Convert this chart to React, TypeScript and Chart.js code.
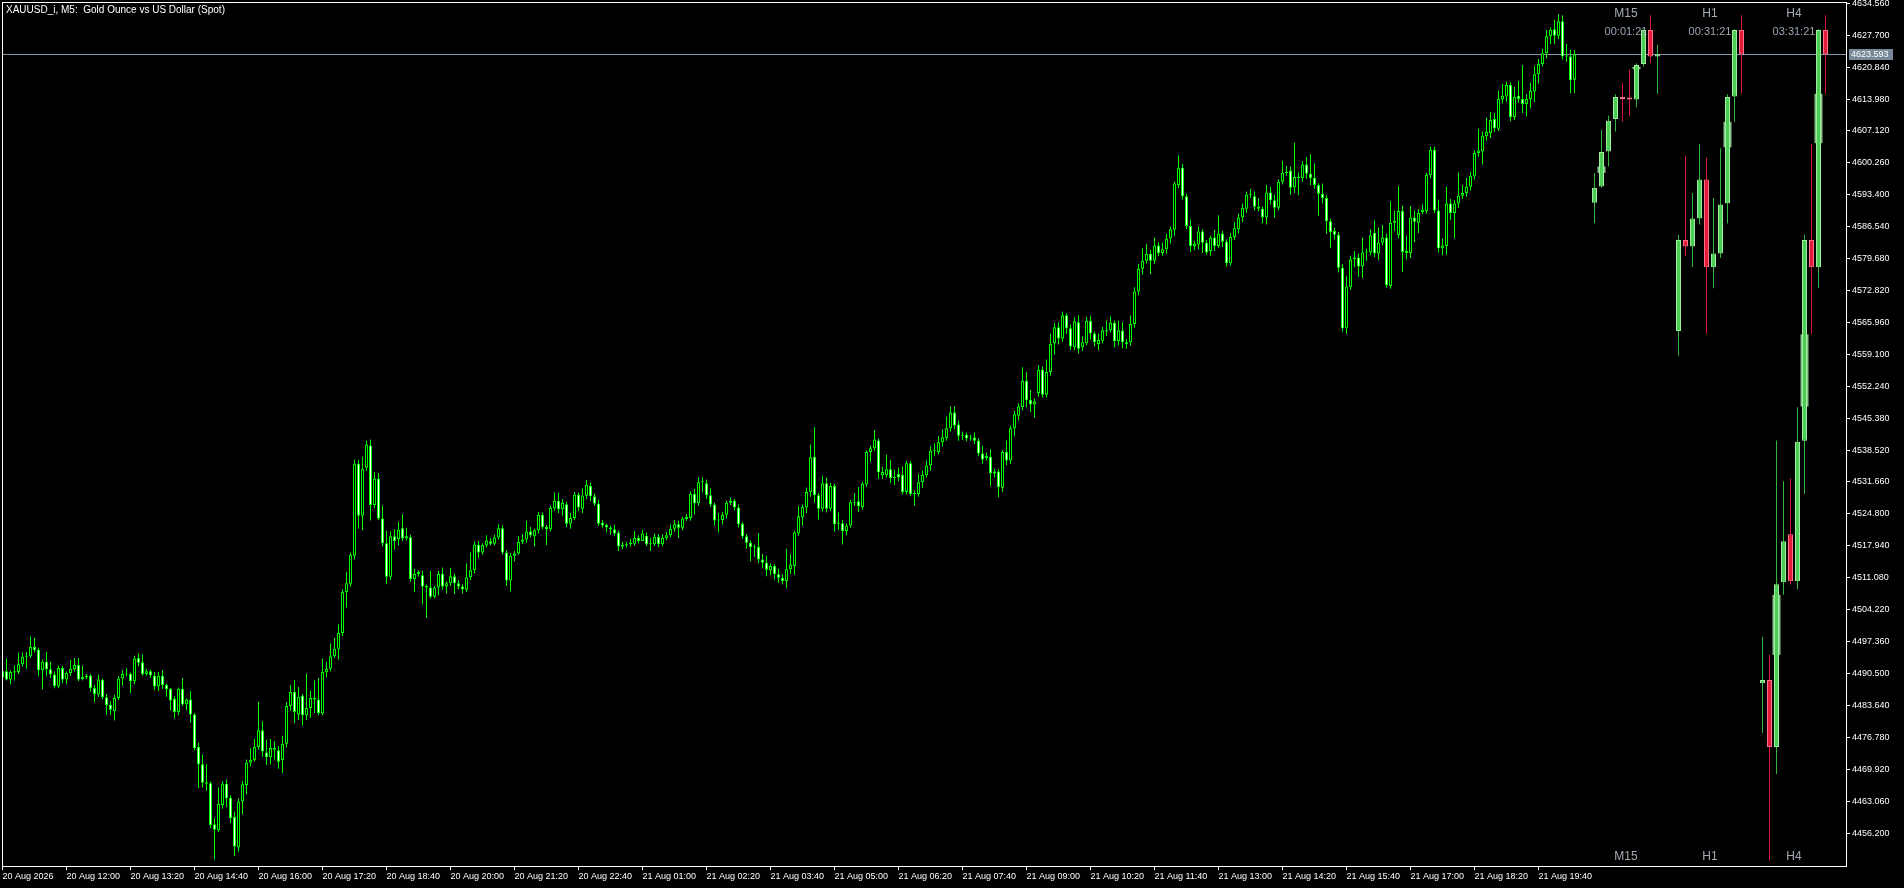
import React, { useEffect, useRef } from "react";
import { Chart, registerables } from "chart.js";

Chart.register(...registerables);

const TITLE = "XAUUSD_i, M5:  Gold Ounce vs US Dollar (Spot)";

const M5_OPEN = [
  4489.7, 4491.0, 4489.2, 4490.7, 4490.8, 4492.5, 4494.1, 4494.2, 4496.2, 4495.6,
  4491.2, 4493.0, 4491.4, 4490.3, 4487.7, 4491.7, 4489.2, 4490.6, 4491.4, 4492.3,
  4489.3, 4489.7, 4490.0, 4487.4, 4486.0, 4489.1, 4485.4, 4483.8, 4482.4, 4485.2,
  4489.4, 4490.4, 4490.4, 4488.8, 4493.8, 4492.9, 4490.4, 4491.0, 4490.0, 4487.7,
  4490.0, 4488.0, 4487.2, 4485.1, 4482.2, 4487.2, 4483.9, 4484.9, 4481.7, 4474.7,
  4471.0, 4467.1, 4466.9, 4458.1, 4456.8, 4462.2, 4466.8, 4463.8, 4459.7, 4453.1,
  4463.0, 4466.5, 4471.3, 4471.9, 4474.7, 4478.3, 4473.5, 4472.5, 4474.5, 4474.0,
  4471.9, 4475.4, 4483.5, 4486.5, 4481.7, 4485.7, 4481.5, 4483.1, 4485.2, 4484.9,
  4481.9, 4490.8, 4491.5, 4494.2, 4495.8, 4499.2, 4508.0, 4509.8, 4515.8, 4535.6,
  4524.4, 4534.7, 4539.5, 4526.7, 4532.4, 4523.8, 4518.5, 4511.3, 4520.0, 4519.4,
  4521.7, 4519.5, 4519.8, 4510.8, 4511.9, 4511.6, 4509.3, 4509.0, 4507.0, 4509.0,
  4511.9, 4509.2, 4509.9, 4511.4, 4509.9, 4509.2, 4508.5, 4511.2, 4512.7, 4518.1,
  4516.5, 4518.0, 4518.9, 4518.4, 4519.7, 4521.7, 4516.5, 4510.5, 4515.8, 4516.3,
  4518.8, 4519.3, 4521.0, 4520.0, 4521.3, 4524.6, 4522.0, 4521.5, 4526.0, 4527.6,
  4525.8, 4526.9, 4522.7, 4523.9, 4528.9, 4525.9, 4528.7, 4530.8, 4528.6, 4527.0,
  4522.9, 4522.4, 4521.9, 4521.5, 4520.8, 4517.8, 4518.0, 4518.3, 4518.4, 4519.6,
  4519.0, 4520.1, 4518.3, 4518.3, 4519.9, 4518.3, 4519.6, 4520.2, 4521.6, 4522.6,
  4521.8, 4523.7, 4523.9, 4529.1, 4527.1, 4531.6, 4531.4, 4528.8, 4526.8, 4523.4,
  4523.5, 4524.6, 4527.2, 4527.6, 4526.2, 4522.7, 4520.0, 4518.6, 4517.8, 4517.7,
  4515.0, 4514.3, 4512.7, 4513.6, 4511.8, 4511.1, 4510.4, 4512.9, 4513.6, 4520.6,
  4524.1, 4526.2, 4529.5, 4537.1, 4528.8, 4525.9, 4531.4, 4525.9, 4530.8, 4522.6,
  4522.8, 4521.1, 4522.3, 4527.3, 4527.5, 4526.3, 4531.1, 4538.1, 4538.9, 4540.6,
  4533.1, 4533.1, 4534.4, 4532.5, 4533.4, 4533.2, 4529.5, 4535.7, 4529.1, 4529.1,
  4531.6, 4533.1, 4535.2, 4538.4, 4538.1, 4540.2, 4541.1, 4543.2, 4546.6, 4544.0,
  4541.8, 4541.8, 4541.2, 4541.2, 4540.6, 4537.8, 4536.8, 4537.1, 4533.5, 4533.9,
  4530.4, 4538.1, 4536.3, 4543.2, 4545.9, 4547.8, 4553.4, 4549.3, 4548.3, 4550.8,
  4555.8, 4550.4, 4555.3, 4561.5, 4564.9, 4562.5, 4567.5, 4564.7, 4560.6, 4566.0,
  4560.6, 4561.5, 4566.3, 4563.6, 4561.3, 4562.0, 4564.3, 4564.3, 4565.9, 4561.9,
  4564.2, 4561.7, 4561.7, 4565.6, 4572.6, 4577.5, 4579.2, 4580.7, 4579.2, 4582.5,
  4580.9, 4581.7, 4584.0, 4585.9, 4595.5, 4599.2, 4593.1, 4586.7, 4582.4, 4582.7,
  4585.5, 4583.1, 4581.3, 4584.2, 4582.4, 4585.1, 4583.3, 4578.7, 4584.3, 4586.0,
  4588.5, 4590.4, 4593.4, 4593.1, 4590.8, 4590.4, 4588.5, 4593.9, 4592.2, 4590.6,
  4596.2, 4598.1, 4598.6, 4595.0, 4597.2, 4597.0, 4599.9, 4597.9, 4597.0, 4595.5,
  4593.6, 4592.7, 4587.7, 4585.6, 4584.8, 4577.7, 4564.7, 4573.5, 4579.6, 4579.9,
  4578.0, 4581.0, 4581.0, 4585.2, 4580.8, 4583.1, 4584.2, 4573.8, 4587.4, 4584.7,
  4589.9, 4581.3, 4580.9, 4588.5, 4587.4, 4589.7, 4589.9, 4597.6, 4603.1, 4590.0,
  4581.9, 4582.4, 4591.5, 4589.5, 4591.5, 4593.2, 4593.8, 4595.1, 4597.4, 4602.4,
  4602.7, 4606.0, 4606.7, 4609.7, 4607.6, 4613.9, 4614.5, 4617.0, 4610.1, 4614.7,
  4614.0, 4612.9, 4614.0, 4615.6, 4619.3, 4621.5, 4623.8, 4627.5, 4629.0, 4627.6,
  4630.7, 4623.1, 4623.1, 4618.1,
];

const M5_HIGH = [
  4491.6, 4493.7, 4491.2, 4492.2, 4494.9, 4495.0, 4495.1, 4498.5, 4498.2, 4496.0,
  4493.5, 4495.1, 4493.0, 4491.0, 4492.2, 4492.1, 4491.0, 4493.4, 4493.8, 4493.8,
  4492.2, 4490.4, 4490.4, 4488.0, 4490.2, 4489.4, 4486.1, 4484.5, 4485.9, 4489.9,
  4491.2, 4491.6, 4490.7, 4494.3, 4494.8, 4494.6, 4491.5, 4491.3, 4490.8, 4490.8,
  4491.2, 4488.3, 4487.4, 4485.6, 4487.5, 4489.5, 4485.1, 4486.7, 4482.0, 4475.6,
  4473.0, 4471.0, 4467.3, 4459.4, 4466.0, 4467.4, 4467.7, 4464.3, 4460.8, 4463.6,
  4467.4, 4472.0, 4474.4, 4476.4, 4484.4, 4480.2, 4476.2, 4476.4, 4476.0, 4474.9,
  4477.1, 4484.3, 4488.0, 4489.1, 4487.6, 4486.1, 4490.5, 4486.8, 4489.0, 4489.5,
  4493.7, 4493.0, 4497.0, 4498.2, 4501.0, 4508.6, 4512.3, 4516.5, 4536.5, 4536.4,
  4537.1, 4540.5, 4540.8, 4533.8, 4533.6, 4526.6, 4521.2, 4521.0, 4521.5, 4523.1,
  4524.7, 4521.8, 4520.3, 4513.0, 4512.7, 4512.5, 4509.6, 4512.5, 4509.3, 4512.6,
  4513.3, 4510.3, 4513.2, 4512.0, 4510.6, 4509.7, 4514.2, 4516.5, 4518.8, 4519.0,
  4518.5, 4520.2, 4519.6, 4520.3, 4522.6, 4522.3, 4517.0, 4516.4, 4516.8, 4520.0,
  4520.5, 4523.3, 4522.0, 4521.6, 4525.2, 4525.1, 4522.4, 4526.5, 4529.4, 4529.3,
  4528.0, 4527.4, 4525.0, 4529.5, 4529.4, 4530.3, 4532.1, 4531.5, 4529.2, 4527.8,
  4523.5, 4522.7, 4522.2, 4522.4, 4521.2, 4518.8, 4518.8, 4519.4, 4521.1, 4520.2,
  4521.4, 4520.8, 4519.6, 4520.6, 4520.5, 4520.4, 4520.9, 4522.5, 4523.5, 4523.3,
  4524.2, 4524.8, 4529.6, 4530.2, 4532.7, 4532.6, 4532.2, 4530.3, 4527.2, 4525.0,
  4525.2, 4527.6, 4528.3, 4528.0, 4526.8, 4523.0, 4520.5, 4519.1, 4518.2, 4520.7,
  4516.2, 4515.8, 4514.2, 4514.0, 4513.0, 4511.8, 4517.3, 4516.1, 4521.2, 4526.5,
  4526.9, 4530.5, 4539.7, 4543.4, 4529.3, 4533.0, 4532.6, 4531.5, 4531.3, 4525.1,
  4523.5, 4522.8, 4527.8, 4529.3, 4530.6, 4531.7, 4538.5, 4539.5, 4542.8, 4541.0,
  4535.0, 4537.5, 4536.4, 4534.3, 4534.7, 4535.0, 4536.2, 4536.1, 4529.9, 4533.4,
  4534.2, 4536.3, 4539.3, 4540.0, 4541.5, 4543.0, 4545.7, 4547.9, 4547.9, 4544.9,
  4542.5, 4542.3, 4541.8, 4542.3, 4541.0, 4539.5, 4538.0, 4538.7, 4534.5, 4534.4,
  4538.5, 4540.6, 4543.8, 4546.9, 4548.6, 4556.3, 4555.3, 4551.5, 4549.6, 4556.8,
  4556.5, 4558.0, 4563.6, 4565.8, 4566.0, 4568.3, 4568.0, 4565.5, 4567.0, 4567.5,
  4563.0, 4567.2, 4567.4, 4564.0, 4563.6, 4565.0, 4566.4, 4567.3, 4566.4, 4566.3,
  4566.0, 4562.4, 4567.5, 4573.5, 4578.5, 4581.9, 4582.8, 4581.6, 4584.2, 4583.2,
  4583.1, 4585.0, 4586.6, 4596.2, 4601.9, 4600.0, 4593.6, 4588.1, 4583.5, 4586.6,
  4586.0, 4583.7, 4584.6, 4585.9, 4589.0, 4585.6, 4583.8, 4585.2, 4587.6, 4589.4,
  4591.5, 4594.1, 4594.7, 4594.1, 4592.6, 4590.9, 4595.5, 4595.1, 4593.4, 4596.7,
  4600.7, 4599.6, 4599.5, 4604.6, 4598.2, 4600.6, 4601.5, 4602.1, 4600.2, 4595.9,
  4595.8, 4593.3, 4588.2, 4586.3, 4585.4, 4578.5, 4575.9, 4580.3, 4581.3, 4580.7,
  4584.2, 4581.8, 4586.0, 4587.9, 4586.4, 4586.9, 4585.0, 4592.0, 4590.0, 4595.3,
  4591.1, 4584.6, 4591.0, 4590.0, 4590.3, 4591.3, 4598.1, 4603.8, 4603.7, 4592.4,
  4584.0, 4595.1, 4592.5, 4592.2, 4598.2, 4595.5, 4597.0, 4598.3, 4603.0, 4607.6,
  4607.0, 4610.0, 4611.2, 4611.0, 4615.8, 4617.2, 4617.7, 4617.6, 4616.6, 4617.9,
  4621.3, 4615.0, 4617.5, 4621.1, 4622.6, 4624.8, 4628.8, 4629.4, 4631.0, 4632.2,
  4632.0, 4625.8, 4624.6, 4624.5,
];

const M5_LOW = [
  4489.0, 4489.0, 4488.2, 4489.0, 4490.4, 4492.0, 4491.5, 4493.8, 4495.0, 4489.9,
  4487.1, 4489.9, 4489.5, 4487.3, 4487.3, 4488.4, 4488.2, 4490.0, 4490.9, 4488.9,
  4489.0, 4489.3, 4486.6, 4484.3, 4485.5, 4484.9, 4481.6, 4481.6, 4480.4, 4484.8,
  4487.9, 4489.9, 4486.3, 4488.2, 4492.0, 4490.0, 4490.0, 4489.6, 4487.0, 4486.8,
  4487.2, 4485.5, 4482.6, 4480.8, 4481.5, 4483.5, 4482.6, 4479.9, 4474.0, 4465.9,
  4466.0, 4465.3, 4457.3, 4450.5, 4456.4, 4461.4, 4461.8, 4458.3, 4451.2, 4452.2,
  4460.2, 4464.5, 4470.5, 4471.6, 4474.1, 4472.6, 4470.8, 4471.0, 4472.0, 4470.0,
  4469.1, 4474.6, 4482.5, 4479.8, 4480.5, 4479.3, 4480.5, 4481.0, 4482.0, 4481.5,
  4481.5, 4489.7, 4491.0, 4493.8, 4493.5, 4498.5, 4504.7, 4509.2, 4515.0, 4521.6,
  4521.3, 4534.0, 4523.4, 4526.0, 4523.5, 4517.8, 4509.7, 4510.6, 4517.1, 4518.0,
  4519.0, 4519.1, 4510.2, 4508.0, 4511.3, 4505.3, 4502.5, 4506.6, 4506.7, 4507.3,
  4508.5, 4507.7, 4509.3, 4507.6, 4508.6, 4507.7, 4508.0, 4510.6, 4512.0, 4515.3,
  4516.0, 4517.6, 4518.0, 4518.0, 4519.3, 4516.0, 4509.3, 4508.1, 4514.6, 4516.0,
  4518.3, 4518.6, 4519.8, 4517.8, 4520.6, 4521.5, 4518.1, 4521.0, 4525.5, 4525.0,
  4524.4, 4522.0, 4521.6, 4523.5, 4525.4, 4525.0, 4528.0, 4527.5, 4526.5, 4522.2,
  4521.8, 4520.8, 4520.3, 4520.0, 4516.8, 4517.2, 4517.6, 4517.8, 4518.0, 4518.5,
  4519.0, 4517.9, 4516.8, 4517.9, 4517.7, 4517.9, 4519.2, 4519.8, 4521.0, 4519.6,
  4521.3, 4523.3, 4523.3, 4524.7, 4526.6, 4529.4, 4528.0, 4526.3, 4522.3, 4520.8,
  4522.5, 4523.8, 4526.7, 4525.6, 4521.9, 4519.4, 4517.3, 4514.6, 4515.6, 4514.2,
  4513.2, 4511.4, 4511.6, 4510.7, 4510.0, 4509.6, 4508.8, 4511.9, 4511.7, 4520.1,
  4522.3, 4525.0, 4528.5, 4527.3, 4523.6, 4525.3, 4525.1, 4525.4, 4521.0, 4521.4,
  4518.2, 4520.2, 4521.8, 4526.5, 4525.2, 4525.7, 4530.6, 4536.0, 4538.3, 4532.3,
  4532.3, 4532.6, 4531.5, 4531.0, 4531.8, 4529.0, 4529.0, 4528.6, 4526.6, 4528.5,
  4530.4, 4532.6, 4534.1, 4537.2, 4537.6, 4539.3, 4540.5, 4542.5, 4543.0, 4540.5,
  4540.7, 4540.4, 4540.5, 4539.8, 4537.2, 4535.6, 4536.3, 4530.8, 4532.6, 4528.4,
  4529.5, 4535.3, 4535.5, 4541.5, 4544.9, 4547.0, 4547.7, 4546.7, 4545.5, 4550.0,
  4549.8, 4549.8, 4554.5, 4559.0, 4561.2, 4561.8, 4563.5, 4560.0, 4560.0, 4559.3,
  4559.8, 4561.0, 4562.3, 4560.8, 4560.0, 4561.5, 4563.0, 4563.8, 4560.6, 4561.0,
  4560.4, 4560.3, 4561.0, 4564.8, 4571.8, 4576.2, 4578.6, 4576.3, 4578.5, 4580.2,
  4580.3, 4580.7, 4582.9, 4584.6, 4594.8, 4592.4, 4586.0, 4581.1, 4581.5, 4581.7,
  4580.9, 4580.5, 4580.3, 4581.3, 4581.9, 4582.2, 4578.0, 4578.2, 4583.7, 4585.1,
  4587.5, 4589.5, 4592.7, 4590.0, 4589.9, 4587.2, 4587.0, 4591.3, 4588.5, 4590.0,
  4595.6, 4597.5, 4593.4, 4593.8, 4593.3, 4596.2, 4596.8, 4595.5, 4594.7, 4588.9,
  4591.5, 4585.0, 4582.0, 4583.8, 4576.7, 4564.0, 4563.5, 4573.0, 4577.8, 4575.8,
  4575.5, 4579.2, 4580.4, 4580.0, 4579.3, 4582.5, 4573.4, 4573.2, 4585.6, 4584.0,
  4576.8, 4579.5, 4579.8, 4583.2, 4585.2, 4589.2, 4589.4, 4596.9, 4589.5, 4581.0,
  4580.4, 4580.5, 4588.0, 4584.0, 4590.6, 4592.5, 4593.0, 4594.3, 4596.7, 4601.6,
  4599.9, 4605.0, 4605.6, 4606.9, 4607.1, 4613.0, 4613.4, 4609.2, 4609.5, 4613.2,
  4611.0, 4610.3, 4612.0, 4613.3, 4617.3, 4621.0, 4622.7, 4625.8, 4625.8, 4626.9,
  4622.5, 4622.0, 4615.2, 4615.3,
];

const M5_CLOSE = [
  4491.0, 4489.2, 4490.8, 4491.0, 4492.5, 4494.1, 4494.3, 4496.2, 4495.5, 4491.2,
  4493.0, 4491.4, 4490.3, 4487.8, 4491.7, 4489.2, 4490.6, 4491.5, 4492.3, 4489.2,
  4489.8, 4490.0, 4487.4, 4486.1, 4489.2, 4485.4, 4483.7, 4482.7, 4485.2, 4489.4,
  4490.4, 4490.3, 4488.8, 4493.7, 4492.8, 4490.4, 4491.0, 4490.1, 4487.7, 4490.0,
  4488.0, 4487.1, 4484.7, 4482.2, 4487.2, 4483.9, 4484.9, 4481.7, 4474.4, 4471.0,
  4467.0, 4466.8, 4457.9, 4456.9, 4462.5, 4466.8, 4463.7, 4459.4, 4453.3, 4463.0,
  4466.7, 4471.3, 4471.9, 4474.7, 4478.3, 4473.7, 4472.5, 4474.5, 4474.1, 4471.5,
  4475.4, 4483.5, 4486.5, 4482.2, 4485.5, 4481.5, 4483.1, 4485.2, 4484.9, 4482.0,
  4490.8, 4491.5, 4494.2, 4495.8, 4499.2, 4508.0, 4509.9, 4516.0, 4535.6, 4524.4,
  4534.5, 4539.7, 4526.7, 4532.4, 4523.8, 4518.5, 4511.3, 4520.0, 4519.0, 4521.4,
  4519.5, 4520.0, 4510.8, 4511.9, 4512.3, 4509.2, 4509.0, 4507.0, 4509.0, 4511.9,
  4509.2, 4509.9, 4511.4, 4509.9, 4509.2, 4508.6, 4511.2, 4512.7, 4518.2, 4516.5,
  4518.1, 4519.1, 4518.4, 4519.7, 4521.7, 4516.5, 4510.5, 4515.8, 4516.3, 4518.8,
  4519.3, 4521.0, 4520.2, 4521.3, 4524.6, 4522.0, 4521.5, 4526.1, 4527.6, 4525.8,
  4527.2, 4522.7, 4523.9, 4528.9, 4526.2, 4528.7, 4531.0, 4528.6, 4527.0, 4522.7,
  4522.3, 4521.9, 4521.5, 4520.6, 4517.8, 4518.1, 4518.3, 4518.6, 4519.6, 4519.0,
  4520.6, 4518.3, 4518.3, 4519.9, 4518.3, 4519.6, 4520.2, 4521.6, 4522.6, 4521.8,
  4523.8, 4524.2, 4529.1, 4527.1, 4531.6, 4531.8, 4528.8, 4526.8, 4523.4, 4523.6,
  4524.6, 4527.2, 4527.6, 4526.2, 4522.6, 4520.0, 4518.6, 4517.7, 4517.6, 4515.0,
  4514.3, 4512.8, 4513.6, 4511.8, 4511.1, 4510.4, 4512.9, 4513.9, 4520.8, 4524.3,
  4526.3, 4529.5, 4537.0, 4528.8, 4525.9, 4531.4, 4525.9, 4530.8, 4522.6, 4522.8,
  4521.1, 4522.3, 4527.3, 4527.1, 4526.5, 4531.3, 4538.1, 4538.9, 4540.8, 4533.8,
  4533.8, 4534.4, 4532.5, 4532.8, 4532.6, 4529.5, 4535.7, 4529.1, 4529.3, 4531.6,
  4533.2, 4535.2, 4538.4, 4538.6, 4540.2, 4541.3, 4543.2, 4546.6, 4543.8, 4541.6,
  4541.6, 4541.0, 4541.0, 4540.5, 4537.8, 4536.5, 4537.3, 4533.5, 4533.9, 4530.6,
  4538.1, 4536.3, 4543.2, 4546.2, 4547.9, 4553.4, 4549.3, 4548.3, 4549.0, 4555.8,
  4550.4, 4555.3, 4561.3, 4564.9, 4562.5, 4567.5, 4564.7, 4560.8, 4566.2, 4560.3,
  4561.7, 4566.3, 4563.6, 4561.7, 4562.2, 4564.3, 4564.0, 4565.9, 4561.9, 4564.3,
  4561.7, 4561.3, 4565.6, 4572.6, 4577.5, 4579.2, 4580.7, 4579.2, 4582.5, 4580.9,
  4581.7, 4584.0, 4586.0, 4595.8, 4599.2, 4593.1, 4586.7, 4582.4, 4582.9, 4585.5,
  4583.1, 4581.0, 4584.2, 4582.4, 4585.1, 4583.3, 4578.7, 4584.3, 4586.2, 4588.5,
  4590.6, 4593.4, 4593.7, 4590.8, 4590.4, 4588.5, 4593.9, 4592.2, 4590.6, 4596.2,
  4598.1, 4598.3, 4594.9, 4597.2, 4597.0, 4599.9, 4597.9, 4597.0, 4595.5, 4593.6,
  4592.7, 4587.7, 4585.4, 4584.8, 4577.7, 4564.7, 4573.7, 4579.5, 4579.9, 4578.0,
  4581.0, 4581.2, 4584.7, 4580.8, 4583.1, 4584.2, 4574.0, 4587.4, 4587.8, 4589.9,
  4581.1, 4580.9, 4588.5, 4587.6, 4589.5, 4590.2, 4597.7, 4603.1, 4590.0, 4581.9,
  4582.5, 4591.5, 4589.5, 4591.5, 4593.2, 4593.8, 4595.1, 4597.5, 4602.4, 4602.9,
  4606.1, 4606.9, 4609.5, 4607.7, 4614.0, 4614.7, 4617.0, 4610.1, 4614.4, 4614.0,
  4612.9, 4614.0, 4615.7, 4619.3, 4621.5, 4623.8, 4627.5, 4628.9, 4627.6, 4630.7,
  4623.1, 4623.2, 4618.0, 4623.593,
];

const TIME_LABELS = [
  "20 Aug 2026", "20 Aug 12:00", "20 Aug 13:20", "20 Aug 14:40", "20 Aug 16:00",
  "20 Aug 17:20", "20 Aug 18:40", "20 Aug 20:00", "20 Aug 21:20", "20 Aug 22:40",
  "21 Aug 01:00", "21 Aug 02:20", "21 Aug 03:40", "21 Aug 05:00", "21 Aug 06:20",
  "21 Aug 07:40", "21 Aug 09:00", "21 Aug 10:20", "21 Aug 11:40", "21 Aug 13:00",
  "21 Aug 14:20", "21 Aug 15:40", "21 Aug 17:00", "21 Aug 18:20", "21 Aug 19:40",
];

const PRICE_TICKS = [
  4634.56, 4627.7, 4620.84, 4613.98, 4607.12, 4600.26, 4593.4, 4586.54, 4579.68,
  4572.82, 4565.96, 4559.1, 4552.24, 4545.38, 4538.52, 4531.66, 4524.8, 4517.94,
  4511.08, 4504.22, 4497.36, 4490.5, 4483.64, 4476.78, 4469.92, 4463.06, 4456.2,
];

const CURRENT_PRICE = 4623.593;

const PANEL_NAMES = ["M15", "H1", "H4"];
const PANEL_TIMERS = ["00:01:21", "00:31:21", "03:31:21"];

const M15_OPEN = [4591.7, 4595.2, 4602.7, 4609.7, 4614.4, 4614.3, 4613.9, 4621.5, 4628.8, 4623.1];
const M15_HIGH = [4598.1, 4607.4, 4610.4, 4615.0, 4617.4, 4620.2, 4621.7, 4628.9, 4632.0, 4625.6];
const M15_LOW = [4587.3, 4594.9, 4599.5, 4607.0, 4609.1, 4610.4, 4612.2, 4621.0, 4621.7, 4615.1];
const M15_CLOSE = [4594.9, 4602.6, 4609.3, 4614.4, 4614.0, 4613.9, 4621.3, 4628.8, 4623.1, 4623.6];

const H1_OPEN = [4564.1, 4583.7, 4582.3, 4588.3, 4596.7, 4577.8, 4580.8, 4591.6, 4614.5, 4628.8];
const H1_HIGH = [4584.8, 4601.8, 4593.8, 4604.3, 4601.3, 4592.7, 4603.4, 4615.0, 4629.0, 4632.0];
const H1_LOW = [4558.8, 4580.2, 4577.9, 4587.0, 4563.5, 4573.3, 4579.8, 4587.2, 4609.1, 4615.1];
const H1_CLOSE = [4583.7, 4582.3, 4588.3, 4596.7, 4577.8, 4580.8, 4591.3, 4614.4, 4628.8, 4623.6];

const H4_OPEN = [4488.4, 4489.1, 4474.7, 4510.1, 4520.4, 4510.3, 4540.5, 4583.7, 4577.8, 4628.8];
const H4_HIGH = [4498.4, 4494.5, 4540.6, 4531.8, 4532.4, 4547.7, 4584.8, 4604.3, 4629.0, 4632.0];
const H4_LOW = [4477.7, 4450.3, 4468.9, 4507.4, 4509.6, 4508.6, 4529.1, 4563.5, 4573.3, 4615.1];
const H4_CLOSE = [4489.1, 4474.7, 4509.7, 4518.9, 4510.3, 4540.3, 4583.7, 4577.8, 4628.8, 4623.6];

// pale range marks shown behind some panel candles
const MARK_PANEL = [0, 0, 1, 2, 2, 2];
const MARK_CANDLE = [1, 6, 7, 8, 6, 2];
const MARK_LOW = [4598.1, 4620.4, 4603.6, 4604.5, 4547.9, 4494.5];
const MARK_HIGH = [4599.5, 4620.9, 4609.1, 4615.1, 4563.4, 4507.4];

// layout (bar-slot units of the x scale, 4 px per M5 bar)
const X_MIN = -0.125;
const X_MAX = 460.875;
const Y_MIN = 4449.11;
const Y_MAX = 4634.84;
const PANEL_START = [398, 419, 440];
const PANEL_STEP = 1.75;
const TIME_TICK_EVERY = 16;

const FONT = "'Liberation Sans', Arial, sans-serif";

const overlay = {
  id: "mtOverlay",
  beforeDatasetsDraw(chart: any) {
    const { ctx, chartArea: a, scales } = chart;
    const y = Math.round(scales.y.getPixelForValue(CURRENT_PRICE)) + 0.5;
    ctx.save();
    ctx.strokeStyle = "#8595a6";
    ctx.lineWidth = 1;
    ctx.beginPath();
    ctx.moveTo(a.left, y);
    ctx.lineTo(a.right, y);
    ctx.stroke();
    ctx.restore();
  },
  afterDraw(chart: any) {
    const { ctx, chartArea: a, scales } = chart;
    ctx.save();
    // frame
    ctx.strokeStyle = "#ffffff";
    ctx.lineWidth = 1;
    ctx.strokeRect(a.left + 0.5, a.top + 0.5, a.right - a.left, a.bottom - a.top);
    // title
    ctx.fillStyle = "#ffffff";
    ctx.font = "10px " + FONT;
    ctx.textAlign = "left";
    ctx.textBaseline = "middle";
    ctx.fillText(TITLE, a.left + 4, a.top + 8);
    // panel captions
    ctx.textAlign = "center";
    PANEL_NAMES.forEach((name, pi) => {
      const cx = scales.x.getPixelForValue(PANEL_START[pi] + PANEL_STEP * 4.5);
      ctx.fillStyle = "#a3abb5";
      ctx.font = "12px " + FONT;
      ctx.fillText(name, cx, a.top + 11.5);
      ctx.fillText(name, cx, a.bottom - 9);
      ctx.fillStyle = "#9aa5b3";
      ctx.font = "11px " + FONT;
      ctx.fillText(PANEL_TIMERS[pi], cx, a.top + 29.5);
    });
    // current price tag
    const yp = Math.round(scales.y.getPixelForValue(CURRENT_PRICE));
    ctx.fillStyle = "#778899";
    ctx.fillRect(a.right + 3, yp - 5, 44, 11);
    ctx.fillStyle = "#ffffff";
    ctx.font = "9px " + FONT;
    ctx.textAlign = "left";
    ctx.fillText(CURRENT_PRICE.toFixed(3), a.right + 5, yp + 0.5);
    ctx.restore();
  },
};

export default function App() {
  const ref = useRef<HTMLCanvasElement | null>(null);

  useEffect(() => {
    const canvas = ref.current;
    if (!canvas) return;
    Chart.defaults.font.family = FONT;

    const m5Wicks = M5_HIGH.map((h, i) => ({ x: i, y: [M5_LOW[i], h] }));
    const m5Bodies = M5_OPEN.map((o, i) => ({ x: i, y: [o, M5_CLOSE[i]] }));
    const m5Fill = M5_OPEN.map((o, i) => (M5_CLOSE[i] >= o ? "#000000" : "#ffffff"));

    const panels = [
      { o: M15_OPEN, h: M15_HIGH, l: M15_LOW, c: M15_CLOSE },
      { o: H1_OPEN, h: H1_HIGH, l: H1_LOW, c: H1_CLOSE },
      { o: H4_OPEN, h: H4_HIGH, l: H4_LOW, c: H4_CLOSE },
    ];
    const mtfWicks: any[] = [];
    const mtfBodies: any[] = [];
    const mtfWickColor: string[] = [];
    const mtfFill: string[] = [];
    const mtfBorder: string[] = [];
    panels.forEach((p, pi) => {
      p.o.forEach((o, k) => {
        const x = PANEL_START[pi] + PANEL_STEP * k;
        const up = p.c[k] >= o;
        mtfWicks.push({ x, y: [p.l[k], p.h[k]] });
        mtfBodies.push({ x, y: [o, p.c[k]] });
        mtfWickColor.push(up ? "#2fb83a" : "#dc143c");
        mtfFill.push(up ? "#4ccb55" : "#e01e3c");
        mtfBorder.push(up ? "#9ef09e" : "#ff7088");
      });
    });
    const marks = MARK_PANEL.map((pi, j) => ({
      x: PANEL_START[pi] + PANEL_STEP * MARK_CANDLE[j],
      y: [MARK_LOW[j], MARK_HIGH[j]],
    }));

    const common = { grouped: false, borderSkipped: false, inflateAmount: 0 };

    const chart = new Chart(canvas, {
      type: "bar",
      data: {
        datasets: [
          { ...common, label: "marks", data: marks, backgroundColor: "rgba(160,228,160,0.85)", barThickness: 8, order: 6 },
          { ...common, label: "mtfWicks", data: mtfWicks, backgroundColor: mtfWickColor, barThickness: 1, order: 5 },
          {
            ...common, label: "mtfBodies", data: mtfBodies, backgroundColor: mtfFill, borderColor: mtfBorder,
            borderWidth: 1, barThickness: 5, minBarLength: 2, order: 4,
          },
          { ...common, label: "wicks", data: m5Wicks, backgroundColor: "#00ff00", barThickness: 1, order: 3 },
          {
            ...common, label: "bodies", data: m5Bodies, backgroundColor: m5Fill, borderColor: "#00ff00",
            borderWidth: 1, barThickness: 3, minBarLength: 1, order: 2,
          },
        ] as any,
      },
      options: {
        responsive: false,
        maintainAspectRatio: false,
        animation: false,
        devicePixelRatio: 1,
        events: [],
        layout: { padding: { left: 2, top: 2, right: 0, bottom: 0 } },
        datasets: { bar: common } as any,
        plugins: {
          legend: { display: false },
          tooltip: { enabled: false },
          title: { display: false },
        },
        scales: {
          x: {
            type: "linear",
            position: "bottom",
            min: X_MIN,
            max: X_MAX,
            offset: false,
            grid: { display: true, drawOnChartArea: false, drawTicks: true, tickLength: 4, tickColor: "#ffffff", offset: false },
            border: { display: false },
            ticks: {
              autoSkip: false,
              maxRotation: 0,
              minRotation: 0,
              align: "start",
              padding: 1,
              color: "#ffffff",
              font: { family: FONT, size: 9 },
              callback: (_v: any, idx: number) => TIME_LABELS[idx] ?? "",
            },
            afterBuildTicks: (s: any) => {
              s.ticks = TIME_LABELS.map((_, k) => ({ value: k * TIME_TICK_EVERY }));
            },
            afterFit: (s: any) => {
              s.height = 22;
              s.paddingLeft = 0;
              s.paddingRight = 0;
            },
          },
          y: {
            type: "linear",
            position: "right",
            min: Y_MIN,
            max: Y_MAX,
            beginAtZero: false,
            grid: { display: true, drawOnChartArea: false, drawTicks: true, tickLength: 4, tickColor: "#ffffff" },
            border: { display: false },
            ticks: {
              autoSkip: false,
              padding: 2,
              color: "#ffffff",
              font: { family: FONT, size: 9 },
              callback: (v: any) => Number(v).toFixed(3),
            },
            afterBuildTicks: (s: any) => {
              s.ticks = PRICE_TICKS.map((v) => ({ value: v }));
            },
            afterFit: (s: any) => {
              s.width = 58;
              s.paddingTop = 0;
              s.paddingBottom = 0;
            },
          },
        } as any,
      },
      plugins: [overlay],
    });

    return () => chart.destroy();
  }, []);

  return (
    <div style={{ position: "fixed", left: 0, top: 0, width: 1904, height: 888, background: "#000000", overflow: "hidden" }}>
      <canvas ref={ref} width={1904} height={888} style={{ display: "block", width: 1904, height: 888 }} />
    </div>
  );
}
